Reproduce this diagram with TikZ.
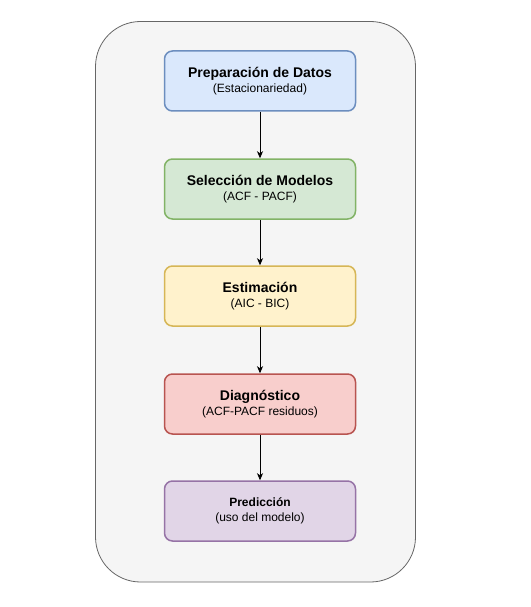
\documentclass[tikz,border=0pt]{standalone}
\usepackage{fontspec}
\setmainfont{Liberation Sans}
\usetikzlibrary{arrows.meta}
\definecolor{outerfill}{HTML}{F5F5F5}
\definecolor{outerdraw}{HTML}{666666}
\definecolor{bfill}{HTML}{DAE8FC}\definecolor{bdraw}{HTML}{6C8EBF}
\definecolor{gfill}{HTML}{D5E8D4}\definecolor{gdraw}{HTML}{82B366}
\definecolor{yfill}{HTML}{FFF2CC}\definecolor{ydraw}{HTML}{D6B656}
\definecolor{rfill}{HTML}{F8CECC}\definecolor{rdraw}{HTML}{B85450}
\definecolor{pfill}{HTML}{E1D5E7}\definecolor{pdraw}{HTML}{9673A6}
\tikzset{
  stagebox/.style={rounded corners=8pt, line width=1.5pt, minimum width=191pt,
    minimum height=60pt, inner sep=0pt, align=center,
    font=\fontsize{12}{15}\selectfont},
  flowarrow/.style={-{Stealth[length=7pt,width=6pt,inset=2pt]}, line width=0.8pt, black},
  ttl/.style={}
}
\newcommand{\tbig}[1]{{\fontsize{14}{16}\selectfont\bfseries #1}}
\newcommand{\tsmall}[1]{{\fontsize{12}{15}\selectfont\bfseries #1}}
\begin{document}
\begin{tikzpicture}[x=1pt,y=-1pt]
\useasboundingbox (0,0) rectangle (530,607);
\draw[fill=outerfill, draw=outerdraw, line width=0.8pt, rounded corners=45pt] (95.5,21.5) rectangle (415.5,582);
\node[stagebox, fill=bfill, draw=bdraw] (prep) at (260,81) {\tbig{Preparación de Datos}\\(Estacionariedad)};
\node[stagebox, fill=gfill, draw=gdraw] (sel) at (260,189) {\tbig{Selección de Modelos}\\(ACF - PACF)};
\node[stagebox, fill=yfill, draw=ydraw] (est) at (260,296) {\tbig{Estimación}\\(AIC - BIC)};
\node[stagebox, fill=rfill, draw=rdraw] (diag) at (260,404) {\tbig{Diagnóstico}\\(ACF-PACF residuos)};
\node[stagebox, fill=pfill, draw=pdraw] (pred) at (260,511) {\tsmall{Predicción}\\(uso del modelo)};
\draw[flowarrow] (prep) -- (sel);
\draw[flowarrow] (sel) -- (est);
\draw[flowarrow] (est) -- (diag);
\draw[flowarrow] (diag) -- (pred);
\end{tikzpicture}
\end{document}
